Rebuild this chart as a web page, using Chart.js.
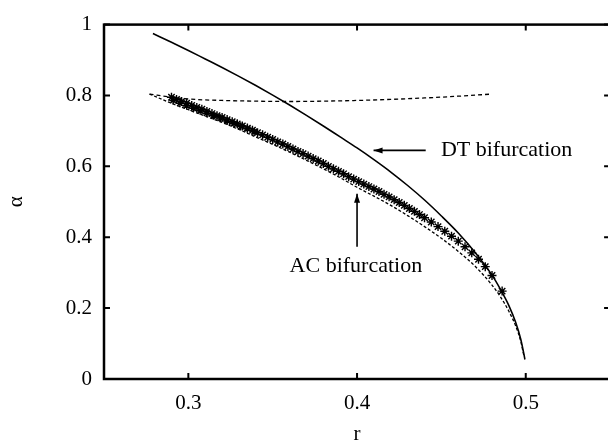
<!DOCTYPE html>
<html>
<head>
<meta charset="utf-8">
<script src="https://cdn.jsdelivr.net/npm/chart.js@4.4.0/dist/chart.umd.min.js"></script>
<style>
  html, body { margin: 0; padding: 0; background: #fff; overflow: hidden; }
  #myChart { display: block; }
</style>
</head>
<body>
<canvas id="myChart" width="616" height="447"></canvas>
<script>
// tick labels
var xTicks = [0.3, 0.4, 0.5];
var yTicks = [0, 0.2, 0.4, 0.6, 0.8, 1];

// DT bifurcation (solid)
var dtR     = [0.279, 0.29, 0.30, 0.31, 0.32, 0.33, 0.34, 0.35, 0.36, 0.37, 0.38, 0.39, 0.40, 0.41, 0.42, 0.43, 0.44, 0.45, 0.46, 0.47, 0.48, 0.485, 0.49, 0.494, 0.497, 0.499, 0.4995];
var dtAlpha = [0.975, 0.950, 0.927, 0.903, 0.879, 0.854, 0.828, 0.801, 0.773, 0.744, 0.714, 0.683, 0.652, 0.619, 0.584, 0.546, 0.505, 0.460, 0.412, 0.357, 0.293, 0.253, 0.207, 0.160, 0.113, 0.068, 0.055];

// near horizontal dashed curve
var flatR     = [0.277, 0.29, 0.30, 0.32, 0.34, 0.36, 0.38, 0.40, 0.42, 0.44, 0.46, 0.48];
var flatAlpha = [0.804, 0.795, 0.790, 0.786, 0.784, 0.783, 0.784, 0.786, 0.789, 0.793, 0.798, 0.804];

// lower dashed curve
var lowR     = [0.277, 0.29, 0.30, 0.31, 0.32, 0.33, 0.34, 0.35, 0.36, 0.37, 0.38, 0.39, 0.40, 0.41, 0.42, 0.43, 0.44, 0.45, 0.46, 0.47, 0.48, 0.485, 0.49, 0.494, 0.497, 0.499];
var lowAlpha = [0.804, 0.778, 0.760, 0.742, 0.724, 0.704, 0.683, 0.662, 0.640, 0.617, 0.593, 0.568, 0.541, 0.516, 0.490, 0.461, 0.430, 0.397, 0.360, 0.318, 0.265, 0.232, 0.191, 0.150, 0.107, 0.063];

// AC bifurcation points (crosses)
var acR = [0.290, 0.293, 0.296, 0.299, 0.302, 0.305, 0.308, 0.311, 0.314, 0.317,
           0.320, 0.323, 0.326, 0.329, 0.332, 0.335, 0.338, 0.341, 0.344, 0.347,
           0.350, 0.353, 0.356, 0.359, 0.362, 0.365, 0.368, 0.371, 0.374, 0.377,
           0.380, 0.383, 0.386, 0.389, 0.392, 0.395, 0.398, 0.401, 0.404, 0.407,
           0.410, 0.413, 0.416, 0.419, 0.422, 0.425, 0.428, 0.431, 0.434, 0.437,
           0.440, 0.444, 0.448, 0.452, 0.456, 0.460, 0.464, 0.468, 0.472, 0.476,
           0.480, 0.486];
var acAlpha = [0.795, 0.789, 0.783, 0.778, 0.772, 0.766, 0.761, 0.755, 0.749, 0.743,
               0.738, 0.732, 0.726, 0.720, 0.714, 0.708, 0.702, 0.695, 0.689, 0.682,
               0.676, 0.669, 0.663, 0.656, 0.649, 0.642, 0.636, 0.629, 0.622, 0.615,
               0.608, 0.600, 0.593, 0.586, 0.579, 0.571, 0.564, 0.557, 0.550, 0.543,
               0.536, 0.529, 0.521, 0.514, 0.506, 0.498, 0.490, 0.481, 0.473, 0.464,
               0.455, 0.443, 0.430, 0.417, 0.403, 0.389, 0.373, 0.356, 0.338, 0.317,
               0.292, 0.248];
// extra crosses that thicken the band at the left end
var acR2     = [0.291, 0.295, 0.299, 0.303, 0.307, 0.311, 0.315, 0.319, 0.323, 0.327, 0.331, 0.335, 0.339];
var acAlpha2 = [0.786, 0.778, 0.771, 0.764, 0.757, 0.750, 0.743, 0.736, 0.728, 0.721, 0.713, 0.706, 0.698];

// annotations
var noteText = ['DT bifurcation', 'AC bifurcation'];
var noteR = [0.4497, 0.3993];
var noteA = [0.645, 0.318];
var noteAlign = ['left', 'center'];
// arrows: from (r,a) to (r,a)
var arrows = [[0.4407, 0.645, 0.4098, 0.645], [0.4, 0.373, 0.4, 0.523]];

var serif = '"Liberation Serif", "DejaVu Serif", serif';

function pts(xs, ys) {
	var out = [];
	for (var i = 0; i < xs.length; i++) out.push({x: xs[i], y: ys[i]});
	return out;
}

var framePlugin = {
	id: 'frame',
	afterDatasetsDraw: function(chart) {
		var ctx = chart.ctx, a = chart.chartArea;
		var xs = chart.scales.x, ys = chart.scales.y;
		ctx.save();
		ctx.strokeStyle = '#000';
		ctx.lineWidth = 2.5;
		ctx.strokeRect(a.left, a.top, a.right - a.left, a.bottom - a.top);
		// inward ticks on all four sides
		ctx.lineWidth = 2;
		ctx.beginPath();
		xTicks.forEach(function(v) {
			var px = xs.getPixelForValue(v);
			ctx.moveTo(px, a.bottom); ctx.lineTo(px, a.bottom - 6);
			ctx.moveTo(px, a.top); ctx.lineTo(px, a.top + 6);
		});
		yTicks.forEach(function(v) {
			var py = ys.getPixelForValue(v);
			ctx.moveTo(a.left, py); ctx.lineTo(a.left + 6, py);
			ctx.moveTo(a.right, py); ctx.lineTo(a.right - 6, py);
		});
		ctx.stroke();

		// arrows
		ctx.lineWidth = 1.6;
		arrows.forEach(function(ar) {
			var x1 = xs.getPixelForValue(ar[0]), y1 = ys.getPixelForValue(ar[1]);
			var x2 = xs.getPixelForValue(ar[2]), y2 = ys.getPixelForValue(ar[3]);
			var ang = Math.atan2(y2 - y1, x2 - x1);
			ctx.beginPath();
			ctx.moveTo(x1, y1); ctx.lineTo(x2, y2);
			ctx.stroke();
			ctx.beginPath();
			ctx.moveTo(x2, y2);
			ctx.lineTo(x2 - 9 * Math.cos(ang) + 3 * Math.sin(ang), y2 - 9 * Math.sin(ang) - 3 * Math.cos(ang));
			ctx.lineTo(x2 - 9 * Math.cos(ang) - 3 * Math.sin(ang), y2 - 9 * Math.sin(ang) + 3 * Math.cos(ang));
			ctx.closePath();
			ctx.fillStyle = '#000';
			ctx.fill();
		});

		// labels
		ctx.font = '22px ' + serif;
		ctx.fillStyle = '#000';
		ctx.textBaseline = 'middle';
		for (var i = 0; i < noteText.length; i++) {
			ctx.textAlign = noteAlign[i];
			ctx.fillText(noteText[i], xs.getPixelForValue(noteR[i]), ys.getPixelForValue(noteA[i]));
		}
		ctx.restore();
	}
};

var ctx = document.getElementById('myChart');

var config = {
	type: 'scatter',
	data: {
		datasets: [{
			label: 'DT',
			data: pts(dtR, dtAlpha),
			showLine: true,
			cubicInterpolationMode: 'monotone',
			borderColor: '#000',
			borderWidth: 1.6,
			pointRadius: 0
		}, {
			label: 'flat',
			data: pts(flatR, flatAlpha),
			showLine: true,
			cubicInterpolationMode: 'monotone',
			borderColor: '#000',
			borderWidth: 1.3,
			borderDash: [4, 3],
			pointRadius: 0
		}, {
			label: 'low',
			data: pts(lowR, lowAlpha),
			showLine: true,
			cubicInterpolationMode: 'monotone',
			borderColor: '#000',
			borderWidth: 1.3,
			borderDash: [3, 2],
			pointRadius: 0
		}, {
			label: 'AC',
			data: pts(acR, acAlpha),
			showLine: false,
			pointStyle: 'star',
			pointRadius: 4.5,
			borderColor: '#000',
			backgroundColor: '#000',
			borderWidth: 1.4
		}, {
			label: 'AC2',
			data: pts(acR2, acAlpha2),
			showLine: false,
			pointStyle: 'star',
			pointRadius: 4,
			borderColor: '#000',
			backgroundColor: '#000',
			borderWidth: 1.4
		}]
	},
	options: {
		responsive: false,
		animation: false,
		devicePixelRatio: 1,
		layout: { padding: { left: 0, right: 2, top: 14, bottom: 0 } },
		plugins: {
			legend: { display: false },
			tooltip: { enabled: false }
		},
		scales: {
			x: {
				type: 'linear',
				min: 0.25,
				max: 0.55,
				afterBuildTicks: function(s) { s.ticks = xTicks.map(function(v) { return {value: v}; }); },
				afterFit: function(s) { s.height = 68; },
				grid: { display: false, drawTicks: false },
				border: { display: false },
				ticks: {
					color: '#000',
					padding: 12,
					font: { family: serif, size: 21 },
					callback: function(v) { return String(v); }
				},
				title: {
					display: true,
					text: 'r',
					color: '#000',
					padding: { top: 0, bottom: 0 },
					font: { family: serif, size: 21 }
				}
			},
			y: {
				type: 'linear',
				min: 0,
				max: 1,
				afterBuildTicks: function(s) { s.ticks = yTicks.map(function(v) { return {value: v}; }); },
				afterFit: function(s) { s.width = 104; },
				grid: { display: false, drawTicks: false },
				border: { display: false },
				ticks: {
					color: '#000',
					padding: 12,
					font: { family: serif, size: 21 },
					callback: function(v) { return String(v); }
				},
				title: {
					display: true,
					text: 'α',
					color: '#000',
					padding: { top: 4, bottom: 0 },
					font: { family: serif, size: 21 }
				}
			}
		}
	},
	plugins: [framePlugin]
};

var myChart = new Chart(ctx, config);
</script>
</body>
</html>
